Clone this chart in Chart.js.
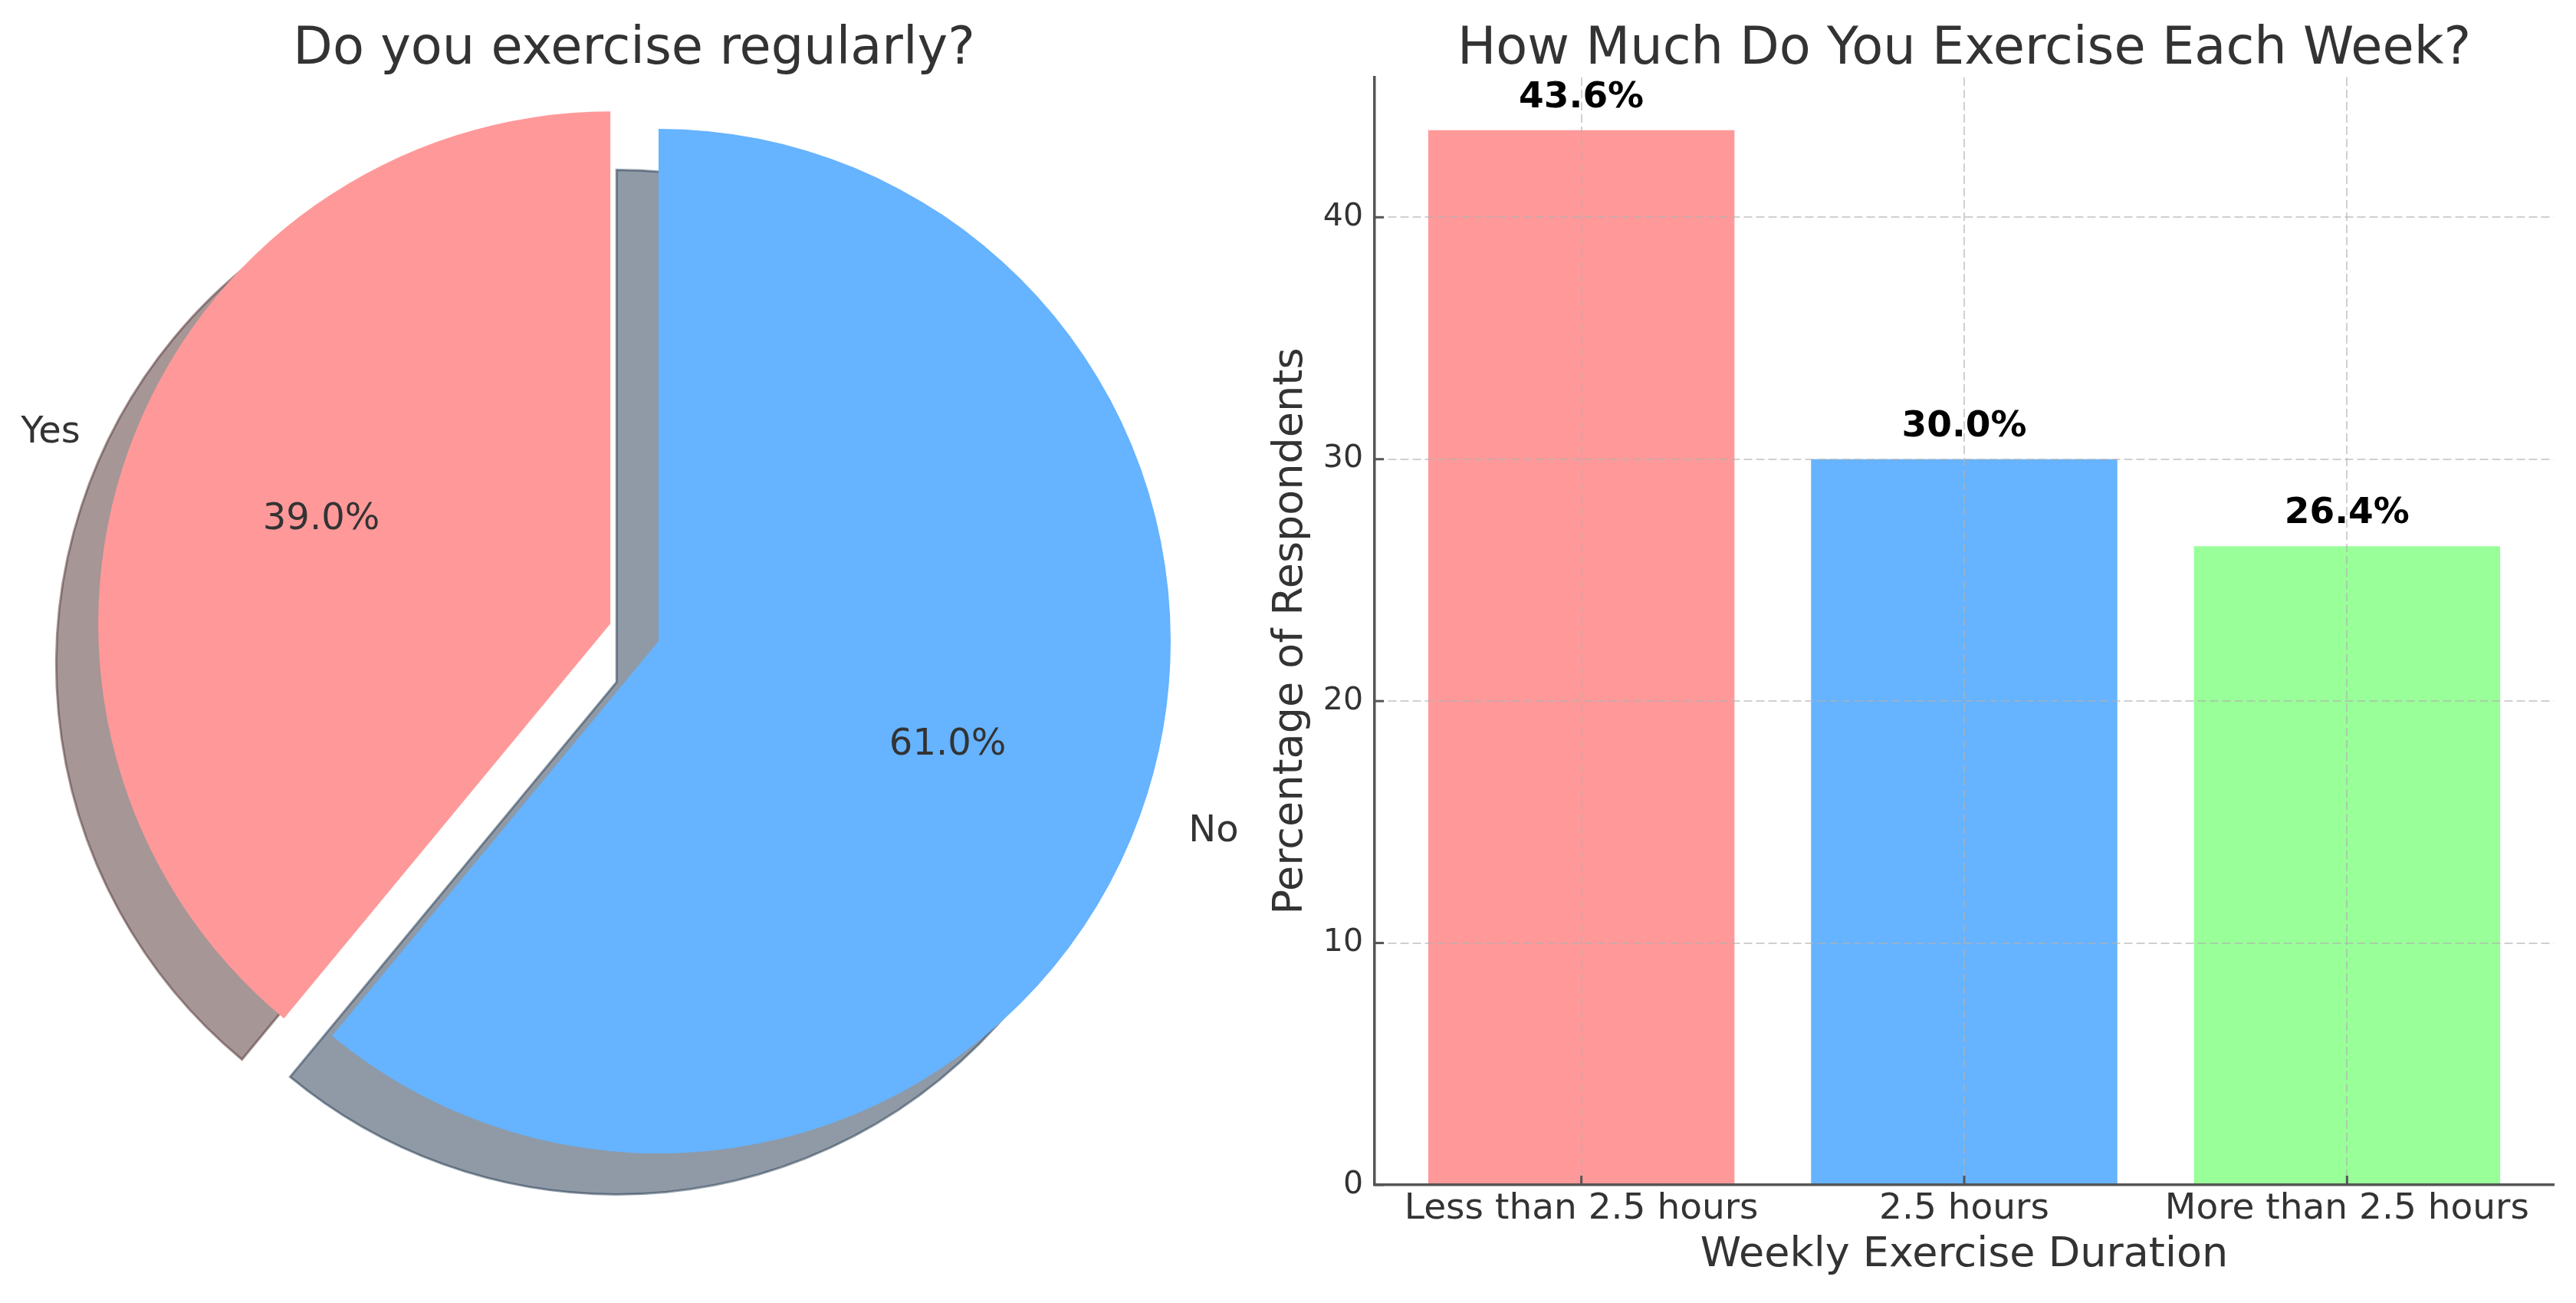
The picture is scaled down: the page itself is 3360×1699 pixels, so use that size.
<!DOCTYPE html>
<html>
<head>
<meta charset="utf-8">
<script src="https://cdn.jsdelivr.net/npm/chart.js@4.4.1/dist/chart.umd.min.js"></script>
<style>
html, body { margin:0; padding:0; background:#ffffff; overflow:hidden; width:3360px; height:1699px; }
#pieWrap { position:absolute; left:0; top:0; width:1654px; height:1699px; }
#barWrap { position:absolute; left:1600px; top:0; width:1760px; height:1699px; }
canvas { display:block; }
</style>
</head>
<body>
<div id="pieWrap"><canvas id="pie" width="1654" height="1699"></canvas></div>
<div id="barWrap"><canvas id="bar" width="1760" height="1699"></canvas></div>
<script>
// ---------- data ----------
const pieTitle = 'Do you exercise regularly?';
const pieLabels = ['Yes', 'No'];
const pieValues = [39, 61];

const barTitle = 'How Much Do You Exercise Each Week?';
const barCategories = ['Less than 2.5 hours', '2.5 hours', 'More than 2.5 hours'];
const barValues = [43.6, 30.0, 26.4];
const yTickValues = [0, 10, 20, 30, 40];
const xAxisTitle = 'Weekly Exercise Duration';
const yAxisTitle = 'Percentage of Respondents';

// ---------- style ----------
const FONT = 'DejaVu Sans';
const TEXT = '#333333';
const pieColors = ['#ff9999', '#66b3ff'];
const pieExplode = [0.1, 0];
const barColors = ['#ff9999', '#66b3ff', '#99ff99'];
const AXIS = '#555555';
const GRID = 'rgba(176,176,176,0.6)';

Chart.defaults.font.family = FONT;
Chart.defaults.color = TEXT;

function shadowOf(hex) {
  const r = parseInt(hex.slice(1,3),16), g = parseInt(hex.slice(3,5),16), b = parseInt(hex.slice(5,7),16);
  return 'rgba(' + Math.round(r*0.3) + ',' + Math.round(g*0.3) + ',' + Math.round(b*0.3) + ',0.5)';
}

const pieTotal = pieValues.reduce((a, b) => a + b, 0);

const piePlugin = {
  id: 'piePlugin',
  beforeDatasetDraw(chart, args) {
    const ctx = chart.ctx;
    const arcs = args.meta.data;
    // shadows first
    arcs.forEach((arc, i) => {
      const p = arc.getProps(['x','y','startAngle','endAngle','outerRadius'], true);
      const mid = (p.startAngle + p.endAngle) / 2;
      const ex = pieExplode[i] * p.outerRadius;
      ctx.save();
      ctx.translate(Math.cos(mid) * ex - 0.082 * p.outerRadius, Math.sin(mid) * ex + 0.080 * p.outerRadius);
      ctx.beginPath();
      ctx.moveTo(p.x, p.y);
      ctx.arc(p.x, p.y, p.outerRadius, p.startAngle, p.endAngle);
      ctx.closePath();
      ctx.fillStyle = shadowOf(pieColors[i]);
      ctx.fill();
      ctx.lineWidth = 3;
      ctx.strokeStyle = shadowOf(pieColors[i]);
      ctx.stroke();
      ctx.restore();
    });
    // wedges
    arcs.forEach((arc, i) => {
      const p = arc.getProps(['startAngle','endAngle','outerRadius'], true);
      const mid = (p.startAngle + p.endAngle) / 2;
      const ex = pieExplode[i] * p.outerRadius;
      ctx.save();
      ctx.translate(Math.cos(mid) * ex, Math.sin(mid) * ex);
      arc.draw(ctx);
      ctx.restore();
    });
    return false;
  },
  afterDraw(chart) {
    const ctx = chart.ctx;
    const arcs = chart.getDatasetMeta(0).data;
    ctx.save();
    ctx.fillStyle = TEXT;
    arcs.forEach((arc, i) => {
      const p = arc.getProps(['x','y','startAngle','endAngle','outerRadius'], true);
      const mid = (p.startAngle + p.endAngle) / 2;
      const ex = pieExplode[i] * p.outerRadius;
      const cx = p.x + Math.cos(mid) * ex, cy = p.y + Math.sin(mid) * ex;
      ctx.font = '48px "' + FONT + '"';
      ctx.textBaseline = 'middle';
      const lx = cx + Math.cos(mid) * 1.1 * p.outerRadius;
      const ly = cy + Math.sin(mid) * 1.1 * p.outerRadius;
      ctx.textAlign = Math.cos(mid) >= 0 ? 'left' : 'right';
      ctx.fillText(pieLabels[i], lx, ly);
      ctx.textAlign = 'center';
      const pct = (pieValues[i] / pieTotal * 100).toFixed(1) + '%';
      ctx.fillText(pct, cx + Math.cos(mid) * 0.6 * p.outerRadius, cy + Math.sin(mid) * 0.6 * p.outerRadius);
    });
    ctx.font = '67px "' + FONT + '"';
    ctx.textAlign = 'center';
    ctx.textBaseline = 'alphabetic';
    ctx.fillText(pieTitle, chart.width / 2, 83);
    ctx.restore();
  }
};

new Chart(document.getElementById('pie'), {
  type: 'pie',
  data: {
    labels: pieLabels,
    datasets: [{
      data: pieValues,
      backgroundColor: pieColors,
      borderWidth: 0,
      offset: 0
    }]
  },
  options: {
    responsive: false,
    animation: false,
    devicePixelRatio: 1,
    rotation: pieValues[1] / pieTotal * 360,
    layout: { padding: { left: 191, right: 127, top: 168, bottom: 195 } },
    plugins: { legend: { display: false }, tooltip: { enabled: false }, title: { display: false } }
  },
  plugins: [piePlugin]
});

// ---------- bar chart ----------
const barPlugin = {
  id: 'barPlugin',
  afterDraw(chart) {
    const ctx = chart.ctx;
    const xs = chart.scales.x, ys = chart.scales.y;
    const area = chart.chartArea;
    ctx.save();
    // inward tick marks
    ctx.strokeStyle = AXIS;
    ctx.lineWidth = 3;
    ys.ticks.forEach(t => {
      const py = ys.getPixelForValue(t.value);
      ctx.beginPath(); ctx.moveTo(area.left, py); ctx.lineTo(area.left + 12, py); ctx.stroke();
    });
    xs.ticks.forEach(t => {
      const px = xs.getPixelForValue(t.value);
      ctx.beginPath(); ctx.moveTo(px, area.bottom); ctx.lineTo(px, area.bottom - 12); ctx.stroke();
    });
    // value labels
    const meta = chart.getDatasetMeta(0);
    ctx.fillStyle = '#000000';
    ctx.font = 'bold 47px "' + FONT + '"';
    ctx.textAlign = 'center';
    ctx.textBaseline = 'alphabetic';
    meta.data.forEach((el, i) => {
      ctx.fillText(barValues[i].toFixed(1) + '%', el.x, ys.getPixelForValue(barValues[i] + 0.95));
    });
    // title
    ctx.fillStyle = TEXT;
    ctx.font = '67px "' + FONT + '"';
    ctx.fillText(barTitle, (area.left + area.right) / 2, 83);
    ctx.restore();
  }
};

new Chart(document.getElementById('bar'), {
  type: 'bar',
  data: {
    datasets: [{
      data: barValues.map((v, i) => ({ x: i, y: v })),
      backgroundColor: barColors,
      borderWidth: 0,
      barPercentage: 0.8,
      categoryPercentage: 1.0
    }]
  },
  options: {
    responsive: false,
    animation: false,
    devicePixelRatio: 1,
    layout: { padding: { left: 0, right: 29, top: 101, bottom: 0 } },
    plugins: { legend: { display: false }, tooltip: { enabled: false }, title: { display: false } },
    scales: {
      x: {
        type: 'linear',
        position: 'bottom',
        min: -0.54,
        max: 2.54,
        offset: false,
        afterBuildTicks(s) { s.ticks = barCategories.map((c, i) => ({ value: i })); },
        afterFit(s) { s.height = 154; },
        ticks: {
          autoSkip: false,
          maxRotation: 0,
          minRotation: 0,
          padding: 4,
          color: TEXT,
          font: { size: 47 },
          callback: v => barCategories[Math.round(v)]
        },
        grid: { color: GRID, lineWidth: 2, drawTicks: false, offset: false, z: 1 },
        border: { color: AXIS, width: 3.5, dash: [11, 5], z: 2 },
        title: { display: true, text: xAxisTitle, color: TEXT, font: { size: 54 }, padding: { top: 0, bottom: 29.6 } }
      },
      y: {
        type: 'linear',
        min: 0,
        max: 45.78,
        afterBuildTicks(s) { s.ticks = yTickValues.map(v => ({ value: v })); },
        afterFit(s) { s.width = 193; },
        ticks: {
          padding: 15,
          color: TEXT,
          font: { size: 41 }
        },
        grid: { color: GRID, lineWidth: 2, drawTicks: false, z: 1 },
        border: { color: AXIS, width: 3.5, dash: [11, 5], z: 2 },
        title: { display: true, text: yAxisTitle, color: TEXT, font: { size: 54 }, padding: { top: 52, bottom: 0 } }
      }
    }
  },
  plugins: [barPlugin]
});
</script>
</body>
</html>
